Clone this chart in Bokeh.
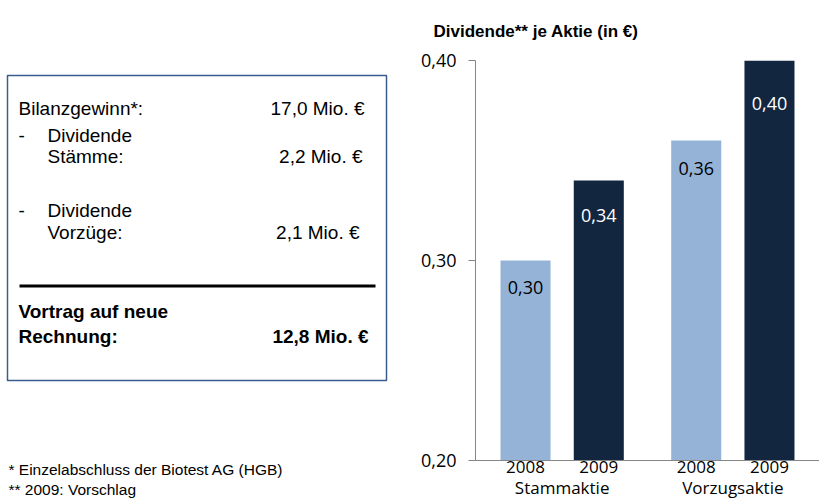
from bokeh.plotting import figure
from bokeh.layouts import row
from bokeh.models import (FactorRange, Range1d, ColumnDataSource, LabelSet, Title,
                          FixedTicker, CustomJSTickFormatter)
from bokeh.core.properties import value
from bokeh.embed import file_html
from bokeh.resources import INLINE

# ---- data -------------------------------------------------------------
share_classes = ["Stammaktie", "Vorzugsaktie"]
years = ["2008", "2009"]
dividend_stamm = [0.30, 0.34]      # EUR per share, 2008 / 2009
dividend_vorzug = [0.36, 0.40]     # EUR per share, 2008 / 2009
y_ticks = [0.20, 0.30, 0.40]

summary_items = ["Bilanzgewinn*:", "Dividende\nStämme:", "Dividende\nVorzüge:"]
summary_amounts = ["17,0 Mio. €", "2,2 Mio. €", "2,1 Mio. €"]
carry_item = "Vortrag auf neue\nRechnung:"
carry_amount = "12,8 Mio. €"
footnotes = ["* Einzelabschluss der Biotest AG (HGB)", "** 2009: Vorschlag"]
chart_title = "Dividende** je Aktie (in €)"

# ---- styles / layout --------------------------------------------------
LIGHT = "#95B3D7"
DARK = "#13263F"
AXIS_GREY = "#868686"
BOX_BLUE = "#385D8A"
SANS_NAME = "Liberation Sans"
CHART_FONT_NAME = "Open Sans"
SANS = value(SANS_NAME)
CHART_FONT = value(CHART_FONT_NAME)
Y_MIN, Y_MAX = y_ticks[0], y_ticks[-1]

H = 504
TOP_BORDER = 60
BOTTOM_BORDER = 44
FRAME_BOTTOM = H - BOTTOM_BORDER

# ---- left panel: profit appropriation box ------------------------------
# data units equal page pixels (y grows downwards)
left = figure(width=400, height=H, x_range=Range1d(0, 400),
              y_range=Range1d(FRAME_BOTTOM, TOP_BORDER),
              x_axis_location=None, y_axis_location=None, output_backend="svg",
              toolbar_location=None, min_border_left=0, min_border_right=0,
              min_border_top=TOP_BORDER, min_border_bottom=BOTTOM_BORDER)
left.grid.visible = False
left.outline_line_color = None
left.background_fill_color = "white"
left.border_fill_color = "white"

left.quad(left=7, right=386, top=75, bottom=380, fill_color=None,
          line_color=BOX_BLUE, line_width=1.5)
left.segment(x0=19, y0=285.5, x1=375, y1=285.5, line_color="black", line_width=3)

stamm_lines = summary_items[1].split("\n")
vorzug_lines = summary_items[2].split("\n")
item_lines = [
    (summary_items[0], 18, 108),
    ("-", 18, 135), (stamm_lines[0], 47, 135),
    (stamm_lines[1], 47, 156),
    ("-", 18, 210), (vorzug_lines[0], 47, 210),
    (vorzug_lines[1], 47, 232),
]
left.text(x=[t[1] for t in item_lines], y=[t[2] for t in item_lines],
          text=[t[0] for t in item_lines], text_font=SANS, text_font_size="19px",
          text_baseline="middle", text_align="left", text_color="black")

left.text(x=[364, 362, 359], y=[108, 156, 232], text=summary_amounts,
          text_font=SANS, text_font_size="19px", text_baseline="middle",
          text_align="right", text_color="black")

carry_lines = carry_item.split("\n")
left.text(x=[18, 18], y=[311, 336], text=carry_lines, text_font=SANS,
          text_font_size="19px", text_font_style="bold", text_baseline="middle",
          text_align="left", text_color="black")
left.text(x=[368], y=[336], text=[carry_amount], text_font=SANS,
          text_font_size="19px", text_font_style="bold", text_baseline="middle",
          text_align="right", text_color="black")

# footnotes sit in the bottom border, stacked below the frame
for note, gap in zip(footnotes, [-3, 5]):
    left.add_layout(Title(text=note, align="left", offset=8, standoff=gap,
                          text_font=SANS_NAME, text_font_size="15.5px",
                          text_font_style="normal", text_color="black"), "below")

# ---- right panel: dividend per share bar chart ------------------------
factors = [(c, y) for c in share_classes for y in years]
tops = dividend_stamm + dividend_vorzug
colors = [LIGHT if y == "2008" else DARK for _, y in factors]
label_colors = ["black" if y == "2008" else "white" for _, y in factors]
label_offsets = [-27, -35, -28, -43]
labels = [f"{v:.2f}".replace(".", ",") for v in tops]

src = ColumnDataSource(dict(x=factors, top=tops, color=colors, label=labels,
                            label_color=label_colors, offset=label_offsets))

x_range = FactorRange(*factors, factor_padding=0.0, group_padding=0.33,
                      range_padding=0.0845)
p = figure(width=419, height=H, x_range=x_range, y_range=Range1d(Y_MIN, Y_MAX),
           output_backend="svg", toolbar_location=None, title=chart_title,
           min_border_left=75, min_border_right=0, min_border_top=TOP_BORDER,
           min_border_bottom=BOTTOM_BORDER)
p.grid.visible = False
p.outline_line_color = None
p.background_fill_color = "white"
p.border_fill_color = "white"

p.title.align = "left"
p.title.offset = -42
p.title.standoff = 39
p.title.text_font = SANS_NAME
p.title.text_font_size = "17px"
p.title.text_font_style = "bold"
p.title.text_color = "black"

p.vbar(x="x", top="top", bottom=Y_MIN, width=0.683, fill_color="color",
       line_color=None, source=src)

p.add_layout(LabelSet(x="x", y="top", text="label", y_offset="offset",
                      text_align="center", text_baseline="middle",
                      text_color="label_color", text_font=CHART_FONT,
                      text_font_size="18px", source=src))

yax = p.yaxis[0]
yax.ticker = FixedTicker(ticks=y_ticks)
yax.formatter = CustomJSTickFormatter(code="return tick.toFixed(2).replace('.', ',');")
yax.axis_line_color = AXIS_GREY
yax.major_tick_line_color = AXIS_GREY
yax.minor_tick_line_color = None
yax.major_tick_in = 0
yax.major_tick_out = 7
yax.major_label_standoff = 12
yax.major_label_text_font = CHART_FONT_NAME
yax.major_label_text_font_size = "18px"
yax.major_label_text_color = "black"

xax = p.xaxis[0]
xax.axis_line_color = AXIS_GREY
xax.major_tick_line_color = None
xax.major_tick_out = 0
xax.major_label_standoff = 0
xax.major_label_text_font = CHART_FONT_NAME
xax.major_label_text_font_size = "17px"
xax.major_label_text_color = "black"
xax.group_text_font = CHART_FONT_NAME
xax.group_text_font_size = "17px"
xax.group_text_font_style = "normal"
xax.group_text_color = "black"
xax.separator_line_color = None

layout = row(left, p, spacing=0)
open("out.html", "w").write(file_html(layout, INLINE))
